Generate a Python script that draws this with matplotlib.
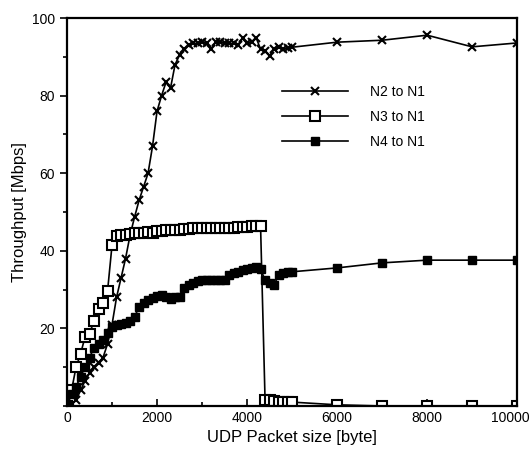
import matplotlib
matplotlib.use("Agg")
import matplotlib.pyplot as plt
import matplotlib.transforms as mtransforms
from matplotlib.ticker import MultipleLocator

plt.rcParams['font.family'] = ['Liberation Sans', 'DejaVu Sans']

# packet sizes [byte]
x_fine = list(range(0, 5100, 100))
x_coarse = [6000, 7000, 8000, 9000, 10000]

n2_x = x_fine + x_coarse
n2_y = [0, 0.5, 1.5, 4, 6.5, 8.5, 10, 11, 12.5, 16,
        21, 28, 33, 38, 44, 48.7, 53, 56.5, 60, 67,
        76, 80, 83.5, 82, 88, 90.5, 92, 93, 93.5, 93.5,
        93.8, 93.5, 92, 93.8, 93.8, 93.6, 93.5, 93.5, 93.2, 94.8,
        93.5, 93.8, 95, 92, 91.5, 90.3, 92, 92.5, 92, 92.3,
        92.5, 93.8, 94.3, 95.6, 92.6, 93.6]

n3_x = x_fine + x_coarse
n3_y = [0, 4, 10, 13.4, 17.8, 18.6, 22, 25, 26.5, 29.6,
        41.5, 43.8, 44, 44.2, 44.4, 44.5, 44.5, 44.6, 44.8, 44.5,
        45, 45.2, 45.3, 45.3, 45.5, 45.5, 45.6, 45.7, 45.8, 45.9,
        45.9, 46, 46, 46, 46, 46, 46, 46, 46.2, 46.1,
        46.2, 46.3, 46.3, 46.4, 1.5, 1.5, 1.3, 1.0, 1.0, 1.1,
        1.0, 0.3, 0, 0, 0, 0]

n4_x = x_fine + x_coarse
n4_y = [0, 3, 5, 7.5, 10, 12.5, 15, 16, 17, 18.8,
        20.4, 21, 21.2, 21.5, 22, 23, 25.5, 26.5, 27.3, 27.8,
        28.3, 28.6, 28, 27.5, 28, 28.2, 30.5, 31.2, 31.7, 32.3,
        32.5, 32.5, 32.5, 32.5, 32.4, 32.6, 33.8, 34.2, 34.6, 35,
        35.2, 35.5, 35.8, 35.2, 32.5, 31.8, 31.2, 33.8, 34.2, 34.5,
        34.6, 35.6, 36.9, 37.6, 37.6, 37.6]

fig = plt.figure(figsize=(5.32, 4.59), dpi=100)
ax = fig.add_axes([0.126, 0.1155, 0.846, 0.845])

ax.plot(n2_x, n2_y, color='black', lw=1.2, marker='x', ms=6, mew=1.5,
        label='N2 to N1')
ax.plot(n3_x, n3_y, color='black', lw=1.2, marker='s', ms=7, mfc='white',
        mew=1.5, label='N3 to N1')
ax.plot(n4_x, n4_y, color='black', lw=1.2, marker='s', ms=5.5, mfc='black',
        label='N4 to N1')

ax.set_xlim(0, 10000)
ax.set_ylim(0, 100)
ax.set_xticks([0, 2000, 4000, 6000, 8000, 10000])
ax.set_yticks([20, 40, 60, 80, 100])
ax.xaxis.set_minor_locator(MultipleLocator(1000))
ax.yaxis.set_minor_locator(MultipleLocator(10))
ax.tick_params(axis='x', which='both', direction='in', labelsize=10)
ax.tick_params(axis='y', which='both', direction='out', labelsize=10)
ax.tick_params(which='major', length=5, width=1.2)
ax.tick_params(which='minor', length=3, width=1.2)
for s in ax.spines.values():
    s.set_linewidth(1.6)

# keep the last x label inside the figure
last = ax.get_xticklabels()[-1]
last.set_transform(last.get_transform() +
                   mtransforms.ScaledTranslation(-5 / 72, 0, fig.dpi_scale_trans))

ax.set_xlabel('UDP Packet size [byte]', fontsize=12)
ax.set_ylabel('Throughput [Mbps]', fontsize=12)

ax.legend(loc='upper left', bbox_to_anchor=(0.45, 0.86), frameon=False,
          fontsize=10, handlelength=4.75, handletextpad=1.6, labelspacing=0.8)

fig.savefig('out.png', dpi=100)
